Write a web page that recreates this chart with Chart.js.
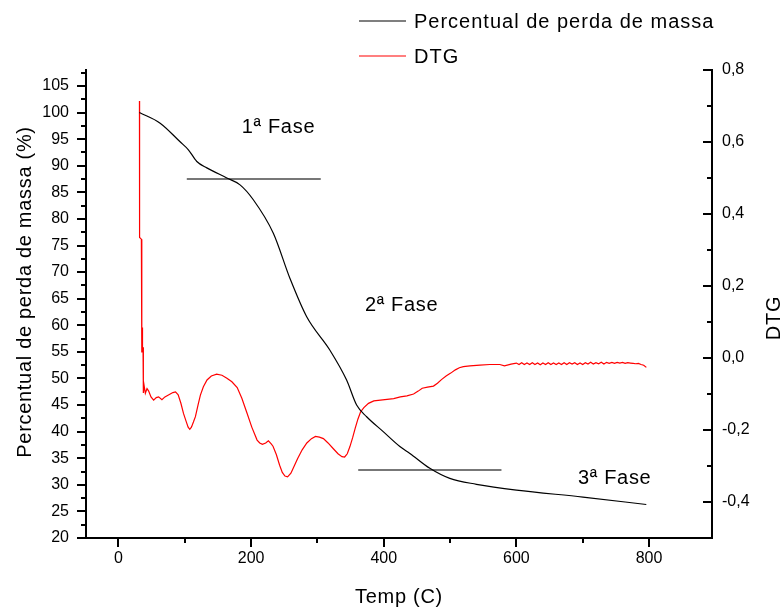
<!DOCTYPE html>
<html>
<head>
<meta charset="utf-8">
<script src="https://cdn.jsdelivr.net/npm/chart.js@4.4.1/dist/chart.umd.min.js"></script>
<style>
  html, body { margin: 0; padding: 0; background: #fff; }
  #wrap { width: 784px; height: 610px; position: relative; }
</style>
</head>
<body>
<div id="wrap"><canvas id="tgaChart"></canvas></div>
<script>
// TG curve - mass loss (%)
const massTemp = [31.6, 62.8, 92.9, 105.4, 118.1, 133.2, 163.3, 183.3, 203.3, 233.5, 258.6, 283.8, 318.9, 344.0, 359.1, 374.2, 399.2, 424.3, 439.4, 469.5, 499.6, 539.8, 600.1, 700.4, 795.9];
const massPercent = [100.0, 98.0, 94.5, 93.0, 90.8, 89.6, 87.7, 86.4, 83.6, 77.3, 68.8, 61.6, 55.3, 49.7, 45.0, 42.8, 40.0, 37.2, 35.9, 33.1, 31.2, 30.1, 29.0, 27.7, 26.3];

// DTG curve
const dtgTemp = [
  31.6, 31.8, 34.5, 35.0, 35.3, 35.6, 35.9, 36.2, 36.5, 37.0, 37.5, 38.5, 40.5, 43, 45.5, 49, 53, 57, 60.5, 65.5,
  70, 74, 78, 82, 86, 90, 94, 98, 102, 105, 107.5, 110, 113, 116, 120, 123.5, 128, 133.5, 140, 148,
  156, 163.5, 171, 179, 186, 194, 201, 209, 213, 217, 222, 226, 230, 233, 238, 243, 247, 251, 255, 260,
  265, 270, 277, 284, 291, 297, 303, 309, 316, 324, 331, 337, 341, 345, 349, 353, 357, 361, 365, 370,
  377, 385, 395, 405, 415, 425, 435, 445, 452, 458, 466, 475, 481, 487, 494, 501, 508, 514, 520, 530,
  545, 560, 575, 582, 592, 600, 604, 608, 612, 616, 620, 624, 628, 632, 636, 640, 644, 648, 652, 656,
  660, 664, 668, 672, 676, 680, 684, 688, 692, 696, 700, 704, 708, 712, 716, 720, 724, 728, 732, 736,
  740, 744, 748, 752, 756, 760, 764, 768, 772, 776, 780, 784, 788, 792, 796
];
const dtgValue = [
  0.714, 0.335, 0.330, 0.090, 0.015, 0.085, 0.018, 0.080, 0.020, 0.030, -0.097, -0.075, -0.098, -0.085, -0.092, -0.108, -0.117, -0.110, -0.108, -0.116,
  -0.108, -0.104, -0.100, -0.096, -0.094, -0.102, -0.125, -0.154, -0.176, -0.192, -0.198, -0.192, -0.178, -0.163, -0.130, -0.103, -0.080, -0.061, -0.050, -0.045,
  -0.048, -0.056, -0.066, -0.082, -0.112, -0.154, -0.192, -0.228, -0.236, -0.240, -0.236, -0.230, -0.238, -0.245, -0.268, -0.298, -0.318, -0.328, -0.330, -0.320,
  -0.300, -0.280, -0.255, -0.236, -0.224, -0.218, -0.220, -0.224, -0.236, -0.252, -0.266, -0.274, -0.275, -0.266, -0.246, -0.222, -0.195, -0.170, -0.150, -0.138,
  -0.126, -0.119, -0.117, -0.115, -0.113, -0.108, -0.105, -0.100, -0.092, -0.084, -0.081, -0.078, -0.070, -0.060, -0.050, -0.042, -0.033, -0.027, -0.024, -0.022,
  -0.020, -0.018, -0.018, -0.022, -0.017, -0.014, -0.018, -0.013, -0.018, -0.014, -0.018, -0.013, -0.018, -0.014, -0.019, -0.014, -0.018, -0.013, -0.018, -0.014,
  -0.018, -0.014, -0.018, -0.013, -0.018, -0.013, -0.017, -0.013, -0.018, -0.014, -0.018, -0.013, -0.017, -0.012, -0.017, -0.013, -0.016, -0.012, -0.017, -0.012,
  -0.015, -0.012, -0.015, -0.012, -0.014, -0.012, -0.015, -0.013, -0.014, -0.015, -0.016, -0.015, -0.018, -0.020, -0.026
];

// phase marker lines and labels
const phase1Temp = [103, 305];
const phase1Level = 87.5;
const phase2Temp = [361.5, 577.5];
const phase2Level = 32.8;
const phaseLabels = ['1ª Fase', '2ª Fase', '3ª Fase'];
const phaseLabelTemp = [185.9, 371.6, 692.9];
const phaseLabelLevel = [97.2, 63.7, 31.2];

// ticks
const xTicks = [0, 200, 400, 600, 800];
const xMinor = [100, 300, 500, 700];
const yTicks = [20, 25, 30, 35, 40, 45, 50, 55, 60, 65, 70, 75, 80, 85, 90, 95, 100, 105];
const yMinor = [22.5, 27.5, 32.5, 37.5, 42.5, 47.5, 52.5, 57.5, 62.5, 67.5, 72.5, 77.5, 82.5, 87.5, 92.5, 97.5, 102.5, 107.5];
const y2Ticks = [-0.4, -0.2, 0, 0.2, 0.4, 0.6, 0.8];
const y2Minor = [-0.3, -0.1, 0.1, 0.3, 0.5, 0.7];

const FONT = "'Liberation Sans', Arial, sans-serif";

function toPoints(xs, ys) {
    return xs.map((x, i) => ({ x: x, y: Array.isArray(ys) ? ys[i] : ys }));
}

const decor = {
    id: 'decor',
    afterDraw(chart) {
        const ctx = chart.ctx;
        const sx = chart.scales.x, sy = chart.scales.y, sy2 = chart.scales.y2;
        const area = chart.chartArea;

        ctx.save();
        ctx.strokeStyle = '#000';
        ctx.lineWidth = 2;
        ctx.beginPath();
        // bottom axis, outward ticks
        xTicks.forEach(v => { const p = Math.round(sx.getPixelForValue(v)); ctx.moveTo(p, area.bottom); ctx.lineTo(p, area.bottom + 9); });
        xMinor.forEach(v => { const p = Math.round(sx.getPixelForValue(v)); ctx.moveTo(p, area.bottom); ctx.lineTo(p, area.bottom + 5); });
        // left axis, outward ticks
        yTicks.forEach(v => { const p = Math.round(sy.getPixelForValue(v)); ctx.moveTo(area.left, p); ctx.lineTo(area.left - 9, p); });
        yMinor.forEach(v => { const p = Math.round(sy.getPixelForValue(v)); ctx.moveTo(area.left, p); ctx.lineTo(area.left - 5, p); });
        // right axis, inward ticks
        y2Ticks.forEach(v => { const p = Math.round(sy2.getPixelForValue(v)); ctx.moveTo(area.right, p); ctx.lineTo(area.right - 9, p); });
        y2Minor.forEach(v => { const p = Math.round(sy2.getPixelForValue(v)); ctx.moveTo(area.right, p); ctx.lineTo(area.right - 5, p); });
        ctx.stroke();

        ctx.fillStyle = '#000';
        ctx.font = '20px ' + FONT;
        ctx.letterSpacing = '0.7px';
        ctx.textBaseline = 'middle';

        // phase labels
        ctx.textAlign = 'left';
        phaseLabels.forEach((t, i) => {
            ctx.fillText(t, sx.getPixelForValue(phaseLabelTemp[i]), sy.getPixelForValue(phaseLabelLevel[i]));
        });

        // axis titles
        ctx.textAlign = 'center';
        ctx.fillText('Temp (C)', (area.left + area.right) / 2, 597);
        ctx.save();
        ctx.translate(25, 292);
        ctx.rotate(-Math.PI / 2);
        ctx.fillText('Percentual de perda de massa (%)', 0, 0);
        ctx.restore();
        ctx.save();
        ctx.translate(774, 318);
        ctx.rotate(-Math.PI / 2);
        ctx.fillText('DTG', 0, 0);
        ctx.restore();

        // legend
        ctx.letterSpacing = '1px';
        ctx.textAlign = 'left';
        [0, 1].forEach((di, row) => {
            const ds = chart.data.datasets[di];
            const y = 21 + row * 35;
            ctx.strokeStyle = ds.borderColor;
            ctx.lineWidth = 1.2;
            ctx.beginPath();
            ctx.moveTo(359, y);
            ctx.lineTo(406, y);
            ctx.stroke();
            ctx.fillText(ds.label, 414, y + 1);
        });
        ctx.restore();
    }
};

new Chart(document.getElementById('tgaChart'), {
    type: 'scatter',
    data: {
        datasets: [
            {
                label: 'Percentual de perda de massa',
                data: toPoints(massTemp, massPercent),
                yAxisID: 'y',
                borderColor: '#000000',
                borderWidth: 1.2,
                showLine: true,
                pointRadius: 0,
                cubicInterpolationMode: 'monotone'
            },
            {
                label: 'DTG',
                data: toPoints(dtgTemp, dtgValue),
                yAxisID: 'y2',
                borderColor: '#ff0000',
                borderWidth: 1.2,
                showLine: true,
                pointRadius: 0,
                tension: 0
            },
            {
                label: 'fase1',
                data: toPoints(phase1Temp, phase1Level),
                yAxisID: 'y',
                borderColor: '#4a4a4a',
                borderWidth: 1.5,
                showLine: true,
                pointRadius: 0
            },
            {
                label: 'fase2',
                data: toPoints(phase2Temp, phase2Level),
                yAxisID: 'y',
                borderColor: '#4a4a4a',
                borderWidth: 1.5,
                showLine: true,
                pointRadius: 0
            }
        ]
    },
    options: {
        responsive: true,
        maintainAspectRatio: false,
        animation: false,
        layout: { padding: { top: 70, left: 0, right: 0, bottom: 0 } },
        plugins: { legend: { display: false }, tooltip: { enabled: false } },
        scales: {
            x: {
                type: 'linear',
                position: 'bottom',
                min: -49,
                max: 895,
                grid: { display: false, drawTicks: false },
                border: { display: true, color: '#000', width: 2 },
                ticks: { padding: 11, color: '#000', maxRotation: 0, autoSkip: false, font: { family: FONT, size: 16 } },
                afterBuildTicks: s => { s.ticks = xTicks.map(v => ({ value: v })); },
                afterFit: s => { s.height = 72; }
            },
            y: {
                type: 'linear',
                position: 'left',
                min: 20,
                max: 108,
                grid: { display: false, drawTicks: false },
                border: { display: true, color: '#000', width: 2 },
                ticks: { padding: 17, color: '#000', autoSkip: false, font: { family: FONT, size: 16 } },
                afterBuildTicks: s => { s.ticks = yTicks.map(v => ({ value: v })); },
                afterFit: s => { s.width = 86; }
            },
            y2: {
                type: 'linear',
                position: 'right',
                min: -0.5,
                max: 0.8,
                grid: { display: false, drawTicks: false },
                border: { display: true, color: '#000', width: 2 },
                ticks: {
                    padding: 10, color: '#000', autoSkip: false, font: { family: FONT, size: 16 },
                    callback: v => v.toFixed(1).replace('.', ',')
                },
                afterBuildTicks: s => { s.ticks = y2Ticks.map(v => ({ value: v })); },
                afterFit: s => { s.width = 72; }
            }
        }
    },
    plugins: [decor]
});
</script>
</body>
</html>
